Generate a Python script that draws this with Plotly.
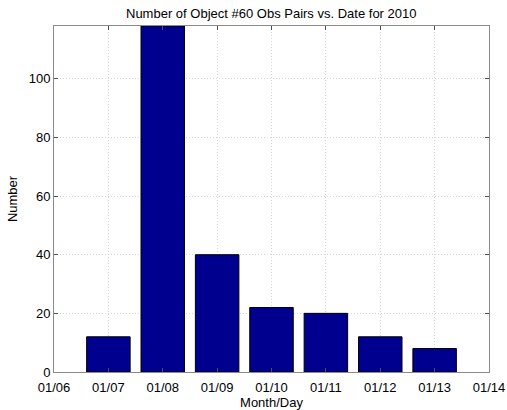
import plotly.graph_objects as go

# Daily counts of observation pairs
dates = ["2010-01-07", "2010-01-08", "2010-01-09", "2010-01-10",
         "2010-01-11", "2010-01-12", "2010-01-13"]
counts = [12, 118, 40, 22, 20, 12, 8]

DAY_MS = 86400000
FONT = "Liberation Sans, Arial"

fig = go.Figure(
    go.Bar(
        x=dates,
        y=counts,
        width=[0.8 * DAY_MS] * len(dates),
        marker=dict(color="#00008F", line=dict(color="#000000", width=1)),
    )
)

axis_common = dict(
    showline=True,
    linecolor="#8a8a8a",
    linewidth=1,
    mirror="ticks",
    ticks="inside",
    ticklen=4,
    tickcolor="#505050",
    showgrid=True,
    gridcolor="#d6d6d6",
    griddash="1px,2px",
    zeroline=False,
    automargin=False,
    tickfont=dict(family=FONT, size=13, color="#000000"),
)

fig.update_layout(
    width=507,
    height=410,
    margin=dict(l=54, r=18, t=26, b=38),
    paper_bgcolor="white",
    plot_bgcolor="white",
    showlegend=False,
    title=dict(
        text="Number of Object #60 Obs Pairs vs. Date for 2010",
        x=0.535, xanchor="center", y=0.968, yanchor="middle",
        font=dict(family=FONT, size=13, color="#000000"),
    ),
    xaxis=dict(
        type="date",
        range=["2010-01-06", "2010-01-14"],
        dtick=DAY_MS,
        tick0="2010-01-06",
        tickformat="%m/%d",
        ticklabelstandoff=3,
        title=dict(text="Month/Day", standoff=0,
                   font=dict(family=FONT, size=13, color="#000000")),
        **axis_common,
    ),
    yaxis=dict(
        range=[0, 118],
        dtick=20,
        title=dict(text="Number", standoff=8,
                   font=dict(family=FONT, size=13, color="#000000")),
        **axis_common,
    ),
)

fig.write_html("out.html")
